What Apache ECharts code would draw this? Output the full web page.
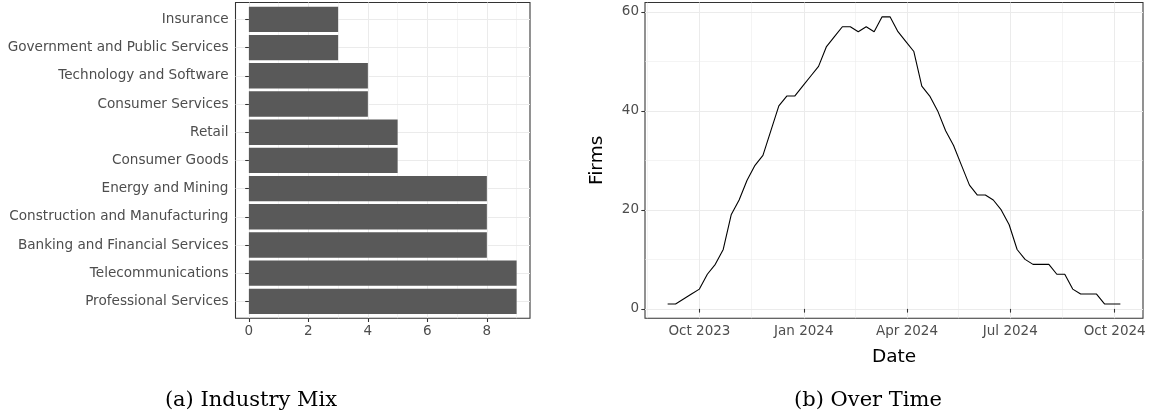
<!DOCTYPE html>
<html>
<head>
<meta charset="utf-8">
<script src="https://cdn.jsdelivr.net/npm/echarts@6/dist/echarts.min.js"></script>
<style>
html,body{margin:0;padding:0;background:#fff;}
#chart{width:1151px;height:418px;}
</style>
</head>
<body>
<div id="chart"></div>
<script>
// ---- Data: (a) Industry Mix ----
const industries = ['Insurance','Government and Public Services','Technology and Software','Consumer Services','Retail','Consumer Goods','Energy and Mining','Construction and Manufacturing','Banking and Financial Services','Telecommunications','Professional Services'];
const industryCounts = [3,3,4,4,5,5,8,8,8,9,9];
const barTicks = [0,2,4,6,8];
const barMinorTicks = [1,3,5,7,9];

// ---- Data: (b) Over Time ----
const weekDates = ['2023-09-03','2023-09-10','2023-09-17','2023-09-24','2023-10-01','2023-10-08','2023-10-15','2023-10-22','2023-10-29','2023-11-05','2023-11-12','2023-11-19','2023-11-26','2023-12-03','2023-12-10','2023-12-17','2023-12-24','2023-12-31','2024-01-07','2024-01-14','2024-01-21','2024-01-28','2024-02-04','2024-02-11','2024-02-18','2024-02-25','2024-03-03','2024-03-10','2024-03-17','2024-03-24','2024-03-31','2024-04-07','2024-04-14','2024-04-21','2024-04-28','2024-05-05','2024-05-12','2024-05-19','2024-05-26','2024-06-02','2024-06-09','2024-06-16','2024-06-23','2024-06-30','2024-07-07','2024-07-14','2024-07-21','2024-07-28','2024-08-04','2024-08-11','2024-08-18','2024-08-25','2024-09-01','2024-09-08','2024-09-15','2024-09-22','2024-09-29','2024-10-06'];
const firms = [1,1,2,3,4,7,9,12,19,22,26,29,31,36,41,43,43,45,47,49,53,55,57,57,56,57,56,59,59,56,54,52,45,43,40,36,33,29,25,23,23,22,20,17,12,10,9,9,9,7,7,4,3,3,3,1,1,1];
const dateTicks = ['2023-10-01','2024-01-01','2024-04-01','2024-07-01','2024-10-01'];
const dateTickLabels = ['Oct 2023','Jan 2024','Apr 2024','Jul 2024','Oct 2024'];
const dateMinorTicks = ['2023-08-16','2023-11-16','2024-02-15T12:00:00','2024-05-16T12:00:00','2024-08-16'];
const firmTicks = [0,20,40,60];
const firmMinorTicks = [10,30,50];

const ts = s => new Date(s.length === 10 ? s + 'T00:00:00Z' : s + 'Z').getTime();
const tickTs = dateTicks.map(ts);
const labelFor = v => { const i = tickTs.findIndex(t => Math.abs(t - v) < 43200000); return i >= 0 ? dateTickLabels[i] : ''; };

const TXT = '#4D4D4D', DARK = '#333333', GRID = '#EBEBEB';
const FONT = 'DejaVu Sans';

const catCenters = industries.map((_, i) => i + 1);

const chart = echarts.init(document.getElementById('chart'), null, {renderer: 'canvas'});
const panelA = {left: 235.5, top: 2.5, width: 294.5, height: 315.8};
const bandA = panelA.height / (industries.length + 0.2);
const panelB = {left: 645, top: 2.5, width: 498, height: 315.8};
const xMinB = ts('2023-08-14T01:12:00'), xMaxB = ts('2024-10-25T22:48:00');

chart.setOption({
  animation: false,
  backgroundColor: '#fff',
  grid: [
    {left: panelA.left, top: panelA.top, width: panelA.width, height: panelA.height, show: true, borderColor: DARK, borderWidth: 1.07, backgroundColor: '#fff', containLabel: false},
    {left: panelA.left, top: panelA.top + 0.1 * bandA, width: panelA.width, height: bandA * industries.length, containLabel: false},
    {left: panelB.left, top: panelB.top, width: panelB.width, height: panelB.height, show: true, borderColor: DARK, borderWidth: 1.07, backgroundColor: '#fff', containLabel: false}
  ],
  xAxis: [
    {type: 'value', gridIndex: 0, min: -0.45, max: 9.45,
     axisLine: {show: false},
     axisTick: {show: true, length: 3.7, customValues: barTicks, lineStyle: {color: DARK, width: 1.07}},
     axisLabel: {show: true, customValues: barTicks, color: TXT, fontFamily: FONT, fontSize: 13.5, margin: 6},
     splitLine: {show: true, lineStyle: {color: GRID, width: 1.07}}},
    {type: 'value', gridIndex: 0, min: -0.45, max: 9.45, position: 'bottom',
     axisLine: {show: false}, axisTick: {show: false, customValues: barMinorTicks}, axisLabel: {show: false},
     splitLine: {show: true, lineStyle: {color: GRID, width: 0.53}}},
    {type: 'value', gridIndex: 1, min: -0.45, max: 9.45, show: false,
     splitLine: {show: false}},
    {type: 'value', gridIndex: 2, min: xMinB, max: xMaxB,
     axisLine: {show: false},
     axisTick: {show: true, length: 3.7, customValues: tickTs, lineStyle: {color: DARK, width: 1.07}},
     axisLabel: {show: true, customValues: tickTs, formatter: v => labelFor(v), color: TXT, fontFamily: FONT, fontSize: 13.5, margin: 6, hideOverlap: false},
     splitLine: {show: true, lineStyle: {color: GRID, width: 1.07}},
     name: 'Date', nameLocation: 'middle', nameGap: 29,
     nameTextStyle: {color: '#000', fontFamily: FONT, fontSize: 18.5}},
    {type: 'value', gridIndex: 2, min: xMinB, max: xMaxB,
     axisLine: {show: false}, axisTick: {show: false, customValues: dateMinorTicks.map(ts)}, axisLabel: {show: false},
     splitLine: {show: true, lineStyle: {color: GRID, width: 0.53}}}
  ],
  yAxis: [
    {type: 'value', gridIndex: 0, min: 0.4, max: 11.6, inverse: true,
     axisLine: {show: false}, axisTick: {show: false, customValues: catCenters}, axisLabel: {show: false},
     splitLine: {show: true, lineStyle: {color: GRID, width: 1.07}}},
    {type: 'category', gridIndex: 1, data: industries, inverse: true,
     axisLine: {show: false},
     axisTick: {show: true, alignWithLabel: true, length: 3.7, lineStyle: {color: DARK, width: 1.07}},
     axisLabel: {color: TXT, fontFamily: FONT, fontSize: 13.6, margin: 7},
     splitLine: {show: false}},
    {type: 'value', gridIndex: 2, min: -1.9, max: 61.9,
     axisLine: {show: false},
     axisTick: {show: true, length: 3.7, customValues: firmTicks, lineStyle: {color: DARK, width: 1.07}},
     axisLabel: {show: true, customValues: firmTicks, color: TXT, fontFamily: FONT, fontSize: 13.5, margin: 6},
     splitLine: {show: true, lineStyle: {color: GRID, width: 1.07}},
     name: 'Firms', nameLocation: 'middle', nameGap: 38, nameRotate: 90,
     nameTextStyle: {color: '#000', fontFamily: FONT, fontSize: 18.5}},
    {type: 'value', gridIndex: 2, min: -1.9, max: 61.9, position: 'left',
     axisLine: {show: false}, axisTick: {show: false, customValues: firmMinorTicks}, axisLabel: {show: false},
     splitLine: {show: true, lineStyle: {color: GRID, width: 0.53}}}
  ],
  series: [
    {type: 'bar', xAxisIndex: 2, yAxisIndex: 1, data: industryCounts, barWidth: '90%',
     itemStyle: {color: '#595959'}, silent: true, z: 3},
    {type: 'line', xAxisIndex: 3, yAxisIndex: 2,
     data: weekDates.map((d, i) => [ts(d), firms[i]]),
     showSymbol: false, symbol: 'none', lineStyle: {color: '#000', width: 1.1}, silent: true, z: 3}
  ],
  graphic: [
    {type: 'text', x: 251, y: 401, style: {text: '(a) Industry Mix', font: '21px "DejaVu Serif"', fill: '#000', textAlign: 'center', textVerticalAlign: 'middle'}},
    {type: 'text', x: 868, y: 401, style: {text: '(b) Over Time', font: '21px "DejaVu Serif"', fill: '#000', textAlign: 'center', textVerticalAlign: 'middle'}}
  ]
});
</script>
</body>
</html>
